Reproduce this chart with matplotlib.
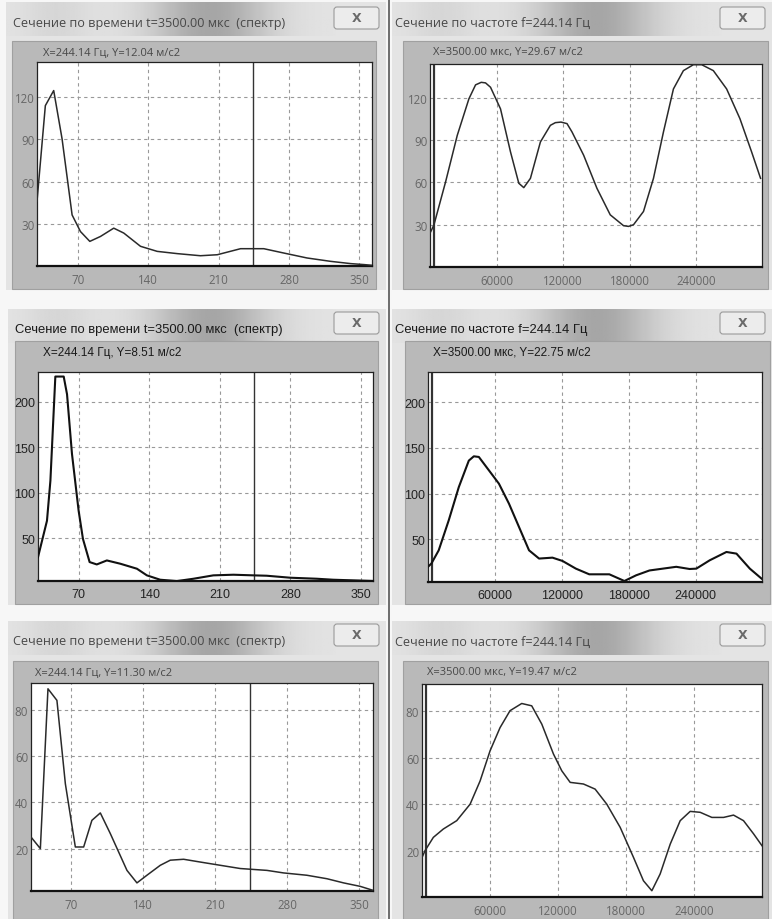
import numpy as np
import matplotlib
matplotlib.use("Agg")
import matplotlib.pyplot as plt
from matplotlib import font_manager
from matplotlib.patches import Rectangle, FancyBboxPatch

W, H = 772, 920

# ---- data ----
# time cut (spectrum), x = frequency
freq_1 = [29.5, 37.8, 46.1, 54.4, 64.4, 72.7, 82, 92.6, 105.8, 115.8, 132.4, 149, 168.9,
          192, 208.7, 231.9, 255, 275, 298, 321.5, 341.4, 354.7, 362.5]
acc_1 = [46, 114, 124.7, 90.5, 36.3, 24.5, 17.5, 21, 26.9, 23.4, 14, 10.4, 8.8,
         7.3, 8, 12.3, 12.3, 9.2, 5.7, 3.3, 1.7, 1, 0.5]

freq_2 = [29.7, 33.7, 38.6, 42, 46.9, 55.2, 58.5, 63.4, 70, 74.3, 80.9, 88, 98, 111.3,
          127.8, 137.7, 150.9, 167.4, 184, 203.6, 223.5, 243.3, 256.5, 280, 306, 322.5,
          342.3, 361.9]
acc_2 = [29, 47, 69, 113, 227.5, 227.5, 208, 142.5, 80, 49, 23.6, 21, 25.4, 21.8,
         16.3, 9, 4.2, 2.7, 5.3, 9, 9.7, 9, 8.6, 6.4, 5.3, 4.2, 3.5, 2.8]

freq_3 = [30.8, 39.9, 47.3, 56, 64.2, 73.9, 82, 90, 98.2, 107.9, 124.1, 133.8, 143.5,
          156.5, 166.2, 179.2, 195.4, 214.8, 234.3, 244, 260.2, 276.4, 299, 318.5,
          334.7, 350.9, 363.2]
acc_3 = [25, 20, 89, 84, 48, 20.7, 20.7, 32.2, 35.4, 26.5, 10.6, 5.2, 8.5, 12.8, 15,
         15.4, 14.2, 12.8, 11.4, 11.1, 10.6, 9.5, 8.5, 7, 5.2, 3.7, 2]

# frequency cut, x = time
time_1 = [0, 3500, 14100, 24600, 35100, 41100, 46200, 50100, 54600, 63600, 72600, 80100,
          84600, 90600, 99600, 108600, 113100, 118200, 123600, 128100, 138600, 150600,
          162600, 174600, 179100, 183600, 192600, 201600, 210600, 219600, 228600, 237600,
          245100, 255600, 267600, 279600, 290100, 298200]
amp_1 = [24, 29.7, 60.5, 93.4, 119.3, 129.2, 131, 130.6, 127.5, 112.2, 81.7, 59.4, 56.3,
         62.9, 88.7, 100.5, 102.4, 102.8, 101.7, 95.8, 79.3, 55.8, 37, 29.3, 28.8, 30,
         39.4, 62.9, 95.8, 126.3, 139.3, 143.5, 143.5, 139.3, 126.3, 105.2, 81.7, 62.9]

time_2 = [0, 3000, 9600, 18600, 27600, 36600, 41100, 45600, 54600, 63600, 72600, 81600,
          90600, 99600, 111600, 120600, 132600, 144600, 162600, 176100, 186600, 198600,
          210600, 222600, 234600, 240600, 252600, 267600, 276600, 288600, 299100]
amp_2 = [20, 23.5, 38, 70.8, 107, 136, 140.7, 140, 125.4, 110.8, 89, 63.5, 38, 29, 30,
         26.4, 18, 11.8, 11.8, 4.5, 10.7, 16, 18, 20, 17.6, 18, 27.1, 36.2, 34.4, 18, 7.1]

time_3 = [0, 2700, 10000, 18800, 30600, 42400, 51200, 60000, 68800, 77600, 87900, 96700,
          105600, 115900, 123200, 130600, 142300, 152600, 162900, 174700, 186400, 195200,
          202600, 209900, 218800, 227600, 236400, 245200, 255500, 265800, 274600, 283400,
          292300, 299700]
amp_3 = [17, 20, 25.7, 29.3, 32.9, 40, 50, 63, 73, 80.3, 83.4, 82.4, 74.5, 61.6, 54.4,
         49.4, 48.7, 46.5, 40, 30, 17.1, 7, 2.7, 9.9, 22.8, 32.9, 36.9, 36.5, 34.3, 34.3,
         35.3, 32.9, 27.2, 22.1]

freq_ticks = [70, 140, 210, 280, 350]
time_ticks = [60000, 120000, 180000, 240000]
y_ticks_1 = [30, 60, 90, 120]
y_ticks_2 = [50, 100, 150, 200]
y_ticks_3 = [20, 40, 60, 80]

title_time = "Сечение по времени t=3500.00 мкс  (спектр)"
title_freq = "Сечение по частоте f=244.14 Гц"
labels_time = ["X=244.14 Гц, Y=12.04 м/с2", "X=244.14 Гц, Y=8.51 м/с2", "X=244.14 Гц, Y=11.30 м/с2"]
labels_freq = ["X=3500.00 мкс, Y=29.67 м/с2", "X=3500.00 мкс, Y=22.75 м/с2", "X=3500.00 мкс, Y=19.47 м/с2"]
cursor_freq = 244.14
cursor_time = 3500

installed = {f.name for f in font_manager.fontManager.ttflist}
thin_font = "Open Sans" if "Open Sans" in installed else "DejaVu Sans"
narrow_font = "Liberation Sans Narrow" if "Liberation Sans Narrow" in installed else "Liberation Sans"

# panel geometry in pixels: window box, grey panel, white plot area
panels = [
    # (window x0,x1,y0,y1), (grey x0,x1,y0,y1), (plot x0,x1,y0,y1)
    ((6, 386, 3, 291), (12, 376, 42, 290), (37, 372, 63, 267)),
    ((392, 772, 3, 291), (403, 768, 42, 290), (430, 762, 65, 268)),
    ((8, 386, 310, 606), (15, 378, 342, 605), (38, 373, 373, 582)),
    ((392, 772, 310, 606), (405, 770, 342, 605), (428, 762, 373, 583)),
    ((8, 386, 622, 920), (13, 378, 662, 920), (31, 373, 684, 892)),
    ((392, 772, 622, 920), (403, 768, 662, 920), (422, 762, 685, 898)),
]
title_x = [13, 395, 15, 395, 13, 395]
label_x = [43, 433, 43, 433, 35, 427]

fig = plt.figure(figsize=(W / 100, H / 100), dpi=100)
fig.patch.set_facecolor("#f7f7f7")
bg = fig.add_axes([0, 0, 1, 1])
bg.set_xlim(0, W)
bg.set_ylim(H, 0)
bg.axis("off")

# title bar shading: light grey with a darker smear behind the right part of the title
xs = np.linspace(0, 1, 300)
shade = 0.89 - 0.24 * np.exp(-((xs - 0.62) / 0.18) ** 2) - 0.05 * np.exp(-((xs - 0.15) / 0.1) ** 2)
shade = shade[None, :]

for i, (win, grey, plot) in enumerate(panels):
    wx0, wx1, wy0, wy1 = win
    gx0, gx1, gy0, gy1 = grey
    bg.add_patch(Rectangle((wx0, wy0), wx1 - wx0, wy1 - wy0, facecolor="#e4e4e4",
                           edgecolor="none", zorder=1))
    bg.imshow(shade, cmap="gray", vmin=0, vmax=1, aspect="auto",
              extent=(wx0, wx1 - 50, wy0 + 34, wy0), zorder=2)
    bg.add_patch(Rectangle((gx0, gy0), gx1 - gx0, gy1 - gy0, facecolor="#b9b9b9",
                           edgecolor="#a0a0a0", lw=0.8, zorder=3))
    # close button
    bx0 = wx1 - 52
    by0 = wy0 + 5 if i < 2 else wy0 + 3
    bg.add_patch(FancyBboxPatch((bx0, by0), 45, 22, boxstyle="round,pad=0,rounding_size=3",
                                facecolor="#ececec", edgecolor="#9a9a9a", lw=0.8, zorder=4))
    bg.text(bx0 + 22.5, by0 + 11, "X", ha="center", va="center", fontsize=9,
            color="#6a6a6a", family="DejaVu Sans", fontweight="bold", zorder=5)

bg.plot([389, 389], [0, H], color="#555555", lw=1.2, zorder=6)

series = [
    (freq_1, acc_1, freq_ticks, y_ticks_1, (29.5, 362.6), (0, 145), cursor_freq),
    (time_1, amp_1, time_ticks, y_ticks_1, (0, 299500), (0, 144), cursor_time),
    (freq_2, acc_2, freq_ticks, y_ticks_2, (29.7, 362), (2.8, 232.5), cursor_freq),
    (time_2, amp_2, time_ticks, y_ticks_2, (0, 299500), (3.4, 232.8), cursor_time),
    (freq_3, acc_3, freq_ticks, y_ticks_3, (30.8, 363.3), (1.7, 91.5), cursor_freq),
    (time_3, amp_3, time_ticks, y_ticks_3, (0, 299700), (0, 91.8), cursor_time),
]
titles = [title_time, title_freq] * 3
labels = [labels_time[0], labels_freq[0], labels_time[1], labels_freq[1],
          labels_time[2], labels_freq[2]]

for i, ((win, grey, plot), (xv, yv, xt, yt, xl, yl, cur)) in enumerate(zip(panels, series)):
    wx0, wx1, wy0, wy1 = win
    gx0, gx1, gy0, gy1 = grey
    px0, px1, py0, py1 = plot
    row = i // 2
    bold_row = row == 1
    tfont = narrow_font if bold_row else thin_font
    tcol = "#1a1a1a" if bold_row else "#484848"

    bg.text(title_x[i], wy0 + 20, titles[i], ha="left", va="center",
            fontsize=9.4 if bold_row else 9.1, family=tfont, color=tcol, zorder=6)
    bg.text(label_x[i], gy0 + 11, labels[i], ha="left", va="center",
            fontsize=8.5 if bold_row else 8.0, family=tfont, color=tcol, zorder=6)

    ax = fig.add_axes([px0 / W, 1 - py1 / H, (px1 - px0) / W, (py1 - py0) / H])
    ax.set_facecolor("white")
    ax.plot(xv, yv, color="#111111" if bold_row else "#2a2a2a",
            lw=1.5 if bold_row else 1.1, zorder=3, solid_joinstyle="round")
    ax.axvline(cur, color="#333333", lw=1.0 if i % 2 == 0 else 1.6, zorder=2)
    ax.set_xlim(*xl)
    ax.set_ylim(*yl)
    ax.set_xticks(xt)
    ax.set_yticks(yt)
    ax.grid(True, color="#999999", linestyle=(0, (3, 3)), lw=0.8)
    for side in ["top", "right", "left"]:
        ax.spines[side].set_color("#222222")
        ax.spines[side].set_linewidth(0.9)
    ax.spines["bottom"].set_color("#111111")
    ax.spines["bottom"].set_linewidth(1.6)
    ax.tick_params(length=0, pad=5, labelsize=9 if bold_row else 8.3,
                   labelcolor="#222222" if bold_row else "#666666")
    for lab in ax.get_xticklabels() + ax.get_yticklabels():
        lab.set_family(tfont)
    ax.tick_params(axis="y", pad=2)

fig.savefig("out.png", dpi=100, facecolor=fig.get_facecolor())
